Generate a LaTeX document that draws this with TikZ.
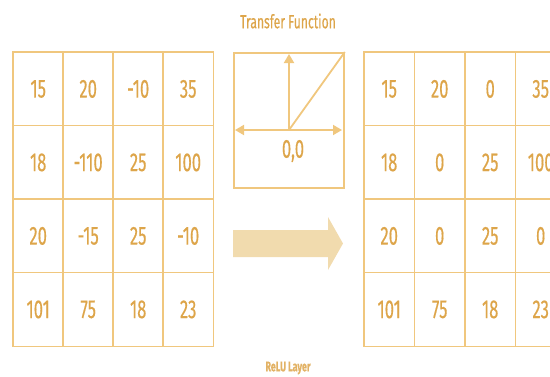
\documentclass[tikz,border=0pt]{standalone}
\usepackage{fontspec}
\setmainfont[FakeStretch=0.64,FakeBold=0.35]{Fira Sans}
\usetikzlibrary{arrows.meta}
\definecolor{gridline}{HTML}{F0C77E}
\definecolor{txt}{HTML}{DDA54A}
\definecolor{bigarrow}{HTML}{F1DBAE}
\begin{document}
\begin{tikzpicture}[x=1pt,y=-1pt,
  cell/.style={minimum width=50pt,minimum height=73.5pt,inner sep=0pt,
    font=\fontsize{26}{26}\selectfont,text=txt,anchor=north west},
  gridln/.style={draw=gridline,line width=1.8pt},
  axis/.style={draw=gridline,line width=1.8pt},
  title/.style={text=txt,font=\fontsize{19}{19}\selectfont}]
\useasboundingbox (0,0) rectangle (550,376);
% left matrix
\foreach \row [count=\r from 0] in {{15,20,-10,35},{18,-110,25,100},{20,-15,25,-10},{101,75,18,23}}{
  \foreach \v [count=\c from 0] in \row {
    \node[cell] (L-\r-\c) at (13+\c*50,52+\r*73.5) {\v};
  }
}
\draw[gridln] (L-0-0.north west) rectangle (L-3-3.south east);
\foreach \c in {1,2,3} \draw[gridln] (L-0-\c.north west) -- (L-3-\c.south west);
\foreach \r in {1,2,3} \draw[gridln] (L-\r-0.north west) -- (L-\r-3.north east);
% right matrix
\foreach \row [count=\r from 0] in {{15,20,0,35},{18,0,25,100},{20,0,25,0},{101,75,18,23}}{
  \foreach \v [count=\c from 0] in \row {
    \node[cell] (R-\r-\c) at (364+\c*50.5,52+\r*73.5) {\v};
  }
}
\draw[gridln] (R-0-0.north west) rectangle (R-3-3.south east);
\foreach \c in {1,2,3} \draw[gridln] (R-0-\c.north west) -- (R-3-\c.south west);
\foreach \r in {1,2,3} \draw[gridln] (R-\r-0.north west) -- (R-\r-3.north east);
% transfer function box
\node[draw=gridline,line width=1.8pt,minimum width=110pt,minimum height=135pt,anchor=north west,inner sep=0pt] (tf) at (233,52) {};
\coordinate (o) at (289,130);
\coordinate (top) at (289,54);
\coordinate (lft) at (235,130);
\coordinate (rgt) at (342,130);
\draw[axis,-{Triangle[width=10pt,length=9pt]}] (o) -- (top);
\draw[axis,{Triangle[width=10pt,length=9pt]}-{Triangle[width=10pt,length=9pt]}] (lft) -- (rgt);
\draw[axis] (o) -- (tf.north east);
\node[text=txt,font=\fontsize{26}{26}\selectfont] (zero) at (293,151) {0,0};
% titles
\node[title] (ttl) at (288,21) {Transfer Function};
\node[text=txt!85,font=\fontsize{14}{14}\selectfont\bfseries] (relu) at (288,368) {ReLU Layer};
% big arrow
\fill[bigarrow] (233,230) -- (328,230) -- (328,217) -- (343,243.5) -- (328,270) -- (328,257) -- (233,257) -- cycle;
\end{tikzpicture}
\end{document}
